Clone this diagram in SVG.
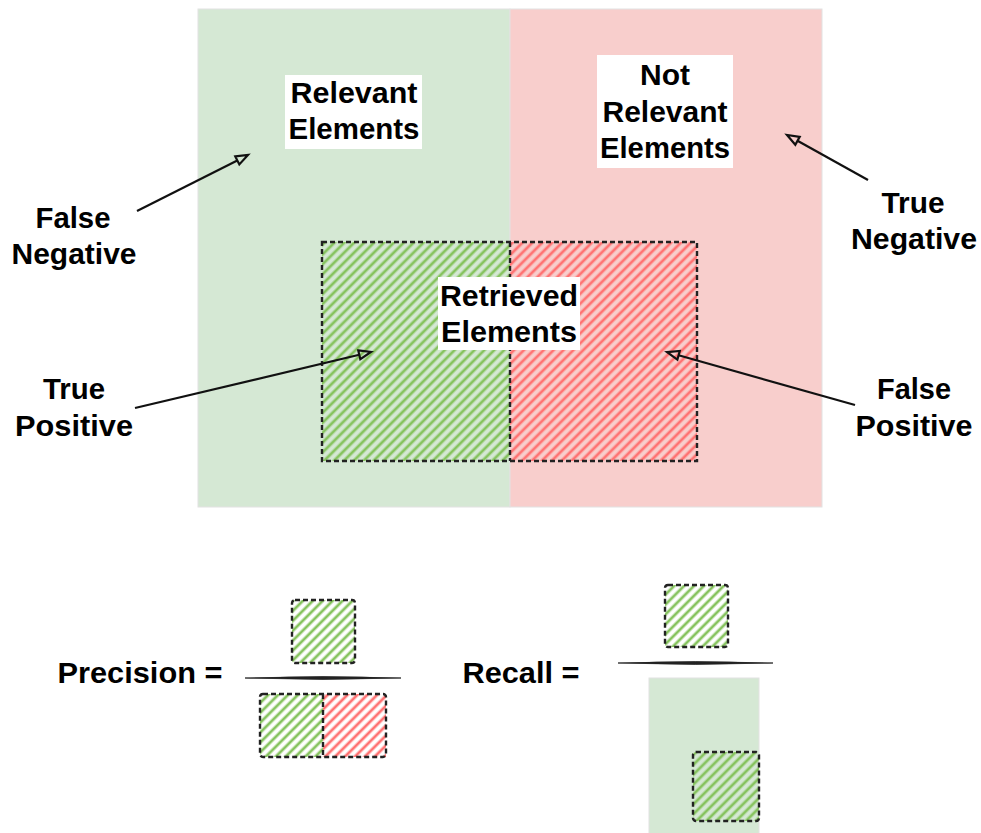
<svg xmlns="http://www.w3.org/2000/svg" width="981" height="833" viewBox="0 0 981 833">
<style>
.lbl{font-family:"Liberation Sans",Arial,sans-serif;font-weight:bold;font-size:29px;fill:#000;text-anchor:middle}
.box{fill:#fff;stroke:none}
.dash{fill:none;stroke:#222;stroke-width:2.4;stroke-dasharray:5 3}
.arrow{fill:none;stroke:#111;stroke-width:2.2;marker-end:url(#open)}
.green{fill:#d5e8d4;stroke:#e2e2e2;stroke-width:1}
.red{fill:#f8cecc;stroke:#e2e2e2;stroke-width:1}
</style>
<defs>
<pattern id="hg" patternUnits="userSpaceOnUse" width="7" height="7" patternTransform="rotate(45)">
<line x1="2" y1="0" x2="2" y2="7" stroke="#86c35e" stroke-width="2.8"/>
</pattern>
<pattern id="hr" patternUnits="userSpaceOnUse" width="7" height="7" patternTransform="rotate(45)">
<line x1="2" y1="0" x2="2" y2="7" stroke="#ff7272" stroke-width="2.8"/>
</pattern>
<marker id="open" markerUnits="userSpaceOnUse" markerWidth="16" markerHeight="12" refX="1" refY="5" orient="auto" overflow="visible">
<path d="M1,0.5 L13,5 L1,9.5 Z" fill="none" stroke="#111" stroke-width="2.2" stroke-linejoin="miter"/>
</marker>
</defs>

<g id="relevant-region"><rect class="green" x="198" y="9" width="312" height="498"/></g>
<g id="not-relevant-region"><rect class="red" x="510" y="9" width="312" height="498"/></g>

<g id="retrieved">
<rect x="322" y="242" width="188" height="219" fill="url(#hg)"/>
<rect x="510" y="242" width="187" height="219" fill="url(#hr)"/>
<line x1="510" y1="242" x2="510" y2="461" class="dash"/>
<rect class="dash" x="322" y="242" width="375" height="219"/>
<rect class="box" x="438" y="277" width="142" height="73"/>
<text class="lbl" x="509" y="306" textLength="138" lengthAdjust="spacingAndGlyphs">Retrieved</text>
<text class="lbl" x="509" y="342" textLength="136" lengthAdjust="spacingAndGlyphs">Elements</text>
</g>

<g id="relevant-label">
<rect class="box" x="285" y="75" width="137" height="74"/>
<text class="lbl" x="354" y="103" textLength="127" lengthAdjust="spacingAndGlyphs">Relevant</text>
<text class="lbl" x="354" y="139" textLength="131" lengthAdjust="spacingAndGlyphs">Elements</text>
</g>

<g id="not-relevant-label">
<rect class="box" x="597" y="55" width="136" height="113"/>
<text class="lbl" x="665" y="85" textLength="50" lengthAdjust="spacingAndGlyphs">Not</text>
<text class="lbl" x="665" y="122" textLength="125" lengthAdjust="spacingAndGlyphs">Relevant</text>
<text class="lbl" x="665" y="158" textLength="130" lengthAdjust="spacingAndGlyphs">Elements</text>
</g>

<g id="false-negative">
<text class="lbl" x="73" y="228" textLength="75" lengthAdjust="spacingAndGlyphs">False</text>
<text class="lbl" x="74" y="264" textLength="125" lengthAdjust="spacingAndGlyphs">Negative</text>
</g>
<g id="true-negative">
<text class="lbl" x="913" y="213" textLength="63" lengthAdjust="spacingAndGlyphs">True</text>
<text class="lbl" x="914" y="249" textLength="126" lengthAdjust="spacingAndGlyphs">Negative</text>
</g>
<g id="true-positive">
<text class="lbl" x="74" y="399" textLength="62" lengthAdjust="spacingAndGlyphs">True</text>
<text class="lbl" x="74" y="436" textLength="118" lengthAdjust="spacingAndGlyphs">Positive</text>
</g>
<g id="false-positive">
<text class="lbl" x="914" y="399" textLength="74" lengthAdjust="spacingAndGlyphs">False</text>
<text class="lbl" x="914" y="436" textLength="117" lengthAdjust="spacingAndGlyphs">Positive</text>
</g>

<g id="connectors">
<line class="arrow" x1="137" y1="211" x2="237.3" y2="160.4"/>
<line class="arrow" x1="868" y1="180" x2="797.5" y2="140.8"/>
<line class="arrow" x1="135" y1="408" x2="359.3" y2="354.8"/>
<line class="arrow" x1="855" y1="405" x2="678.6" y2="355.3"/>
</g>

<g id="precision">
<text class="lbl" x="140" y="683" textLength="165" lengthAdjust="spacingAndGlyphs">Precision =</text>
<rect x="292" y="600" width="63" height="63" rx="3" fill="url(#hg)"/>
<rect class="dash" x="292" y="600" width="63" height="63" rx="3"/>
<path d="M245,678 Q323,675.2 401,678 Q323,680.8 245,678 Z" fill="#222" stroke="#222" stroke-width="0.8"/>
<rect x="260" y="694" width="63" height="63" fill="url(#hg)"/>
<rect x="323" y="694" width="63" height="63" fill="url(#hr)"/>
<rect class="dash" x="260" y="694" width="126" height="63" rx="3"/>
<line class="dash" x1="323" y1="694" x2="323" y2="757"/>
</g>

<g id="recall">
<text class="lbl" x="521" y="683" textLength="117" lengthAdjust="spacingAndGlyphs">Recall =</text>
<rect x="665" y="585" width="63" height="62" rx="3" fill="url(#hg)"/>
<rect class="dash" x="665" y="585" width="63" height="62" rx="3"/>
<path d="M618,663 Q695,660.2 773,663 Q695,665.8 618,663 Z" fill="#222" stroke="#222" stroke-width="0.8"/>
<rect class="green" x="649" y="678" width="110" height="160"/>
<rect x="693" y="752" width="66" height="69" rx="3" fill="url(#hg)"/>
<rect class="dash" x="693" y="752" width="66" height="69" rx="3"/>
</g>
</svg>
